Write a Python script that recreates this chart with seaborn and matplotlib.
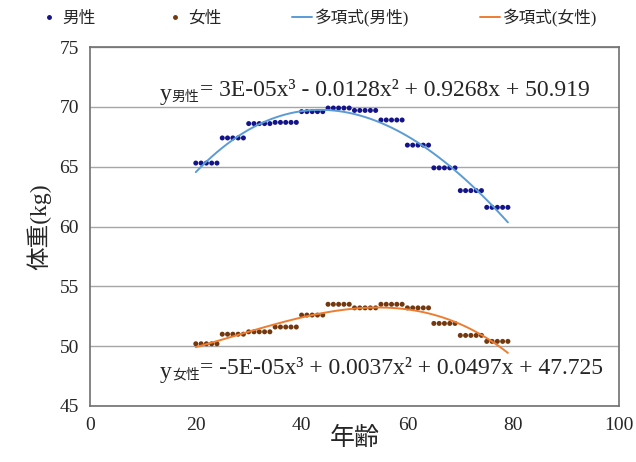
import numpy as np
import pandas as pd
import matplotlib
matplotlib.use("Agg")
import matplotlib.pyplot as plt
import seaborn as sns
from matplotlib.lines import Line2D

# 5-year age groups
age_start = [20, 25, 30, 35, 40, 45, 50, 55, 60, 65, 70, 75]
male_kg = [65.3, 67.4, 68.6, 68.7, 69.6, 69.9, 69.7, 68.9, 66.8, 64.9, 63.0, 61.6]
female_kg = [50.2, 51.0, 51.2, 51.6, 52.6, 53.5, 53.2, 53.5, 53.2, 51.9, 50.9, 50.4]

male_eq = "= 3E-05x³ - 0.0128x² + 0.9268x + 50.919"
female_eq = "= -5E-05x³ + 0.0037x² + 0.0497x + 47.725"

ages = np.concatenate([np.arange(a, a + 5) for a in age_start])
male = np.repeat(male_kg, 5)
female = np.repeat(female_kg, 5)

df = pd.DataFrame({
    "age": np.concatenate([ages, ages]),
    "kg": np.concatenate([male, female]),
    "sex": ["男性"] * len(ages) + ["女性"] * len(ages),
})

# cubic trend lines (like Excel polynomial trendline)
fit = pd.DataFrame({
    "age": np.concatenate([ages, ages]),
    "kg": np.concatenate([np.polyval(np.polyfit(ages, male, 3), ages),
                          np.polyval(np.polyfit(ages, female, 3), ages)]),
    "sex": ["多項式(男性)"] * len(ages) + ["多項式(女性)"] * len(ages),
})

sns.set_style("white")
plt.rcParams['font.family'] = ['Liberation Serif', 'Noto Sans CJK JP']

fig = plt.figure(figsize=(6.36, 4.62), dpi=100)
ax = fig.add_axes([90 / 636, 1 - 406 / 462, 529 / 636, 359 / 462])

sns.scatterplot(data=df, x="age", y="kg", hue="sex",
                palette={"男性": "#14148a", "女性": "#74380e"},
                s=13, linewidth=0, ax=ax, legend=False)
sns.lineplot(data=fit, x="age", y="kg", hue="sex",
             palette={"多項式(男性)": "#5b9bd5", "多項式(女性)": "#ed7d31"},
             linewidth=1.4, ax=ax, legend=False)

ax.set_xlim(0, 100)
ax.set_ylim(45, 75)
ax.set_xticks(range(0, 101, 20))
ax.set_yticks(range(45, 76, 5))
ax.yaxis.grid(True, color="#a6a6a6", linewidth=1)
ax.set_axisbelow(True)
for sp in ax.spines.values():
    sp.set_color("#707070")
    sp.set_linewidth(1.2)
ax.tick_params(axis="x", direction="in", length=4, color="#707070", labelsize=14, pad=8)
ax.tick_params(axis="y", length=0, labelsize=14, pad=8)
ax.set_xlabel("年齢", fontsize=18, labelpad=-5)
ax.set_ylabel("体重(kg)", fontsize=17, labelpad=6)

# legend on top
handles = [
    Line2D([], [], marker="o", ls="", color="#14148a", markersize=2.5),
    Line2D([], [], marker="o", ls="", color="#74380e", markersize=2.5),
    Line2D([], [], color="#5b9bd5", lw=1.4),
    Line2D([], [], color="#ed7d31", lw=1.4),
]
fig.legend(handles, ["男性", "女性", "多項式(男性)", "多項式(女性)"],
           loc="center", bbox_to_anchor=(0.5, 1 - 18 / 462), ncol=4,
           frameon=False, fontsize=12, handlelength=1.2, handletextpad=0.2,
           columnspacing=4.2)


def equation(x_px, y_px, sub, rest):
    t1 = fig.text(x_px / 636, 1 - y_px / 462, "y", fontsize=17, va="baseline")
    t2 = ax.annotate(sub, xy=(1, 0), xycoords=t1, xytext=(0, 1),
                     textcoords="offset points", fontsize=10, va="bottom")
    ax.annotate(rest, xy=(1, 0), xycoords=t2, xytext=(0, 2),
                textcoords="offset points", fontsize=17, va="bottom")


equation(160, 100, "男性", male_eq)
equation(160, 378, "女性", female_eq)

fig.savefig("out.png", dpi=100)
